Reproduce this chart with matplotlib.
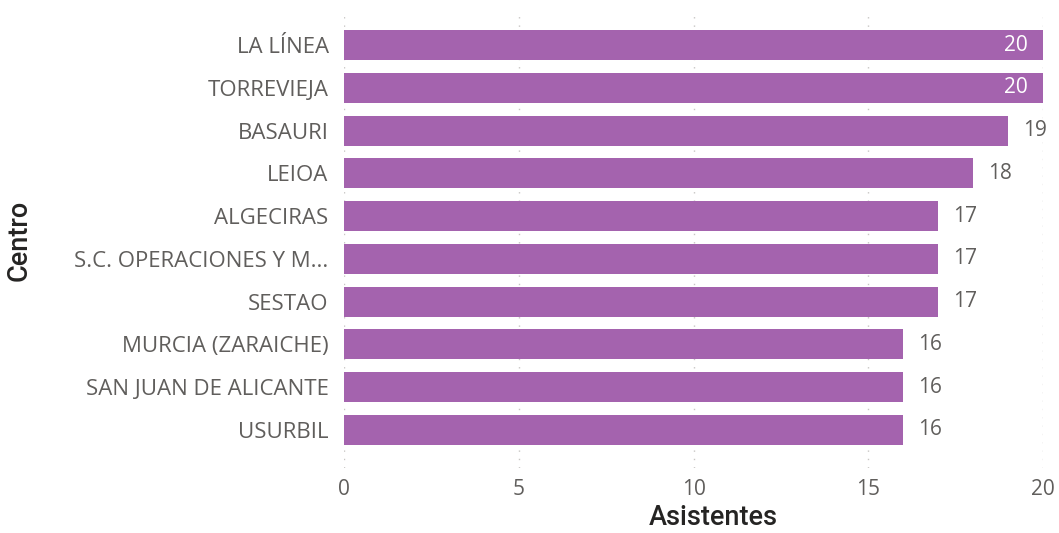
import matplotlib
matplotlib.use('Agg')
import matplotlib.pyplot as plt

# Data
centros = ['LA LÍNEA', 'TORREVIEJA', 'BASAURI', 'LEIOA', 'ALGECIRAS',
           'S.C. OPERACIONES Y M...', 'SESTAO', 'MURCIA (ZARAICHE)',
           'SAN JUAN DE ALICANTE', 'USURBIL']
asistentes = [20, 20, 19, 18, 17, 17, 17, 16, 16, 16]
xticks = [0, 5, 10, 15, 20]

bar_color = '#A463AE'
tick_color = '#605E5C'
title_color = '#252423'
fs = 15

fig = plt.figure(figsize=(10.59, 5.33), dpi=100)
ax = fig.add_axes([0.3248, 0.122, 0.985 - 0.3248, 0.855])

ypos = list(range(len(centros)))
ax.barh(ypos, asistentes, height=0.7, color=bar_color, zorder=2)

# Value labels: inside (white) if the bar reaches the axis end
xmax = max(xticks)
for y, v in zip(ypos, asistentes):
    if v >= xmax:
        ax.text(v - 0.43, y, str(v), ha='right', va='center', color='white',
                fontsize=fs, family='Open Sans', zorder=3)
    else:
        ax.text(v + 0.43, y, str(v), ha='left', va='center', color=tick_color,
                fontsize=fs, family='Open Sans', zorder=3)

ax.set_xlim(0, xmax)
ax.set_ylim(9.89, -0.77)
ax.set_yticks(ypos)
ax.set_yticklabels(centros, family='Open Sans', fontsize=16, color=tick_color)
ax.set_xticks(xticks)
ax.set_xticklabels([str(t) for t in xticks], family='Open Sans',
                   fontsize=fs, color=tick_color)
ax.tick_params(axis='y', length=0, pad=11)
ax.tick_params(axis='x', length=0, pad=8)

ax.grid(axis='x', color='#C8C6C4', ls=(0, (1, 5)), lw=1, zorder=0)
for s in ax.spines.values():
    s.set_visible(False)

ax.set_xlabel('Asistentes', family='Roboto', fontweight='medium', fontsize=19.5,
              color=title_color)
ax.xaxis.set_label_coords(0.528, -0.078)
ax.set_ylabel('Centro', family='Roboto', fontweight='medium', fontsize=19.5,
              color=title_color)
ax.yaxis.set_label_coords(-0.445, 0.5)

fig.savefig('out.png', dpi=100)
